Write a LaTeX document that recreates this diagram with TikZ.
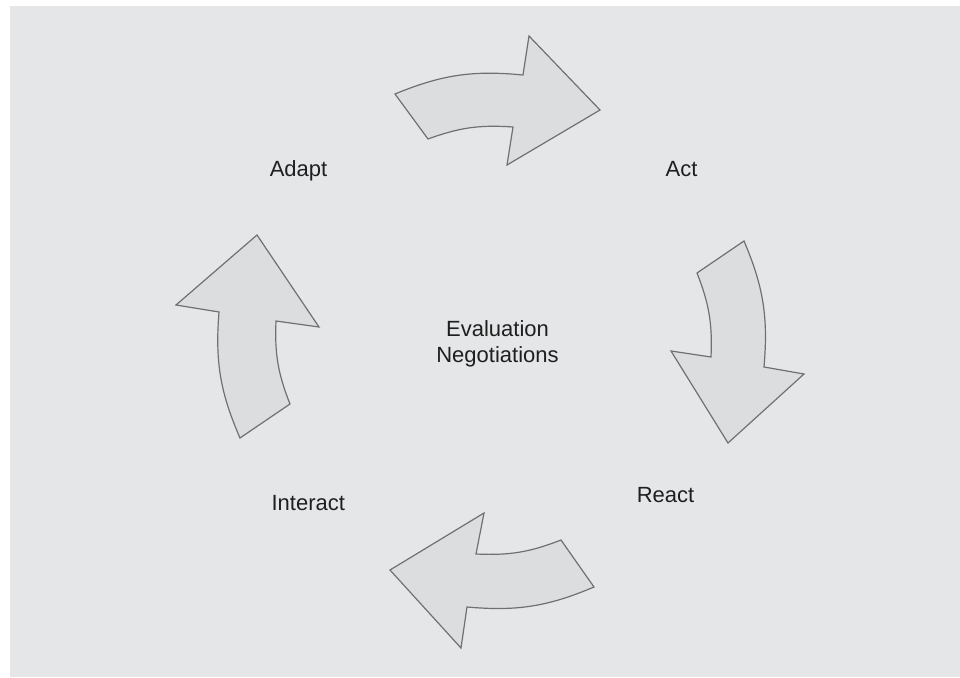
\documentclass[tikz,border=0pt]{standalone}
\usepackage{fontspec}
\setmainfont{Liberation Sans}
\usepackage{tikz}
\usetikzlibrary{positioning}
\definecolor{panelgray}{RGB}{229,230,232}
\definecolor{arrowgray}{RGB}{220,221,223}
\definecolor{edgegray}{RGB}{112,112,112}

\begin{document}
\begin{tikzpicture}[x=0.5pt,y=0.5pt,
  cyclearrow/.style={draw=edgegray,fill=arrowgray,line width=0.6pt,line join=miter},
  stage/.style={anchor=base,font=\fontsize{11}{12.85}\selectfont,text=black!88}]
  \useasboundingbox (0,0) rectangle (960,677);
  \fill[panelgray] (10,0) rectangle (960,671);
  % curved arrows, clockwise
  \draw[cyclearrow] (395,583) to[bend left=14] (523,602) -- (529,641) -- (600,567) -- (507,512) -- (513,550) to[bend right=12] (428,538) -- cycle;
  \draw[cyclearrow] (744,436) to[bend left=14] (764,310) -- (804,303) -- (728,234) -- (671,326) -- (711,320) to[bend right=12] (697,404) -- cycle;
  \draw[cyclearrow] (390,107) -- (484,164) -- (476,123) to[bend right=12] (561,137) -- (594,90) to[bend left=14] (467,70) -- (461,29) -- cycle;
  \draw[cyclearrow] (257,442) -- (319,350) -- (276,356) to[bend right=12] (290,273) -- (240,239) to[bend left=14] (219,365) -- (176,372) -- cycle;
  % labels
  \node[stage] (adapt) at (298.5,501) {Adapt};
  \node[stage] (act) at (681.5,501) {Act};
  \node[stage] (react) at (665.5,175) {React};
  \node[stage] (interact) at (308.3,166.7) {Interact};
  \node[stage,anchor=center,align=center] (eval) at (497.5,333) {Evaluation\\Negotiations};
\end{tikzpicture}
\end{document}
